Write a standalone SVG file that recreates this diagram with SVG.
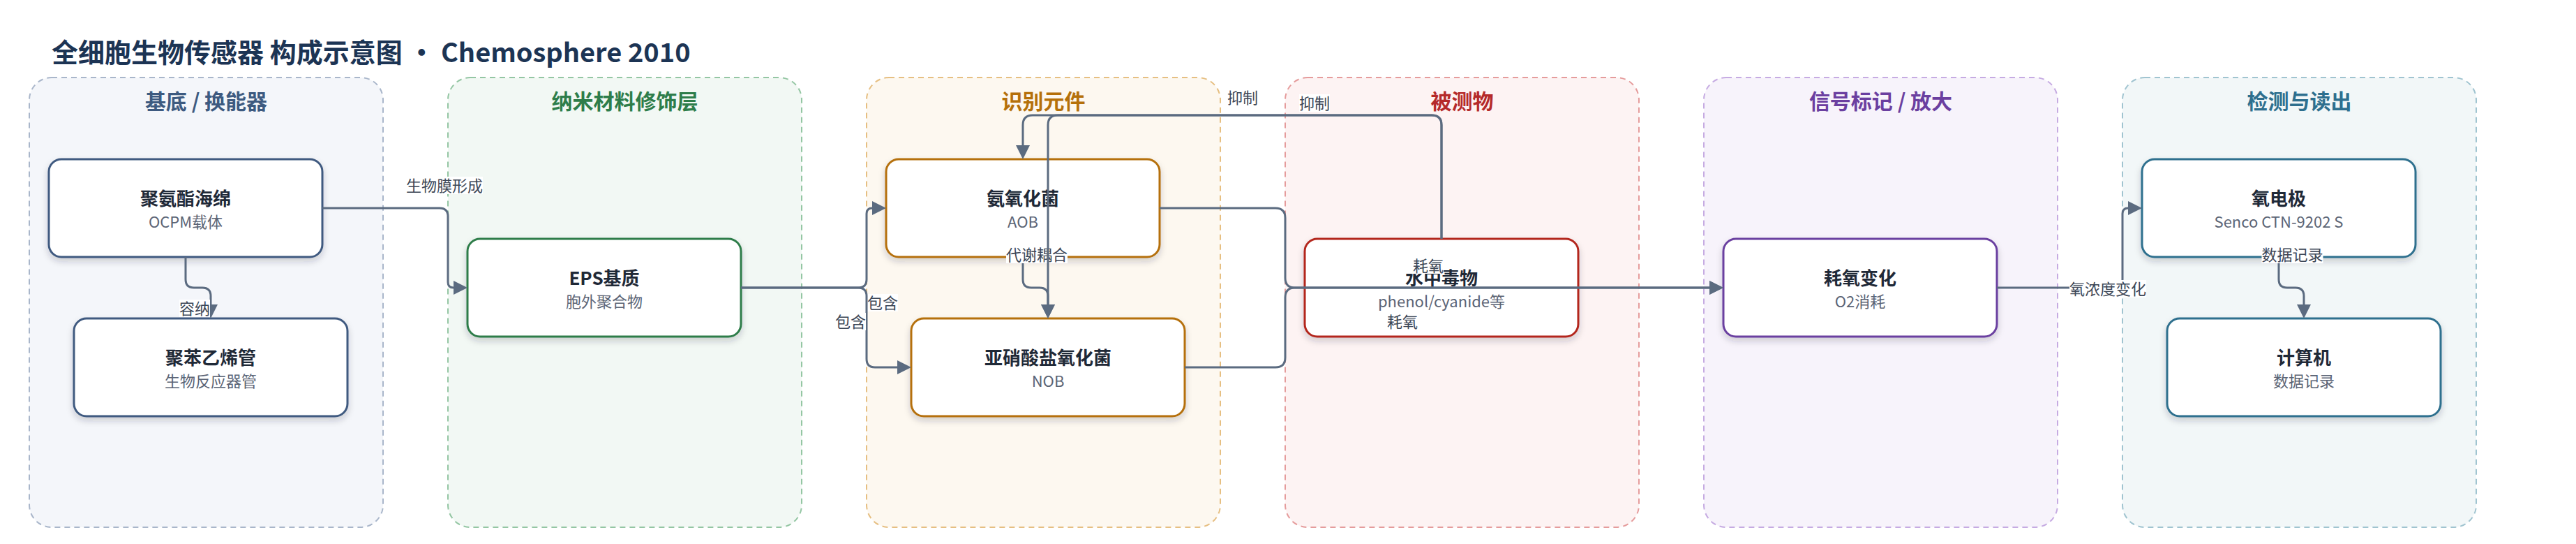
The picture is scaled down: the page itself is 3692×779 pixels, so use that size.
<svg xmlns="http://www.w3.org/2000/svg" width="3692" height="779" viewBox="0 0 3692 779">
<defs>
<style>
text{font-family:"Noto Sans CJK SC","Noto Sans",sans-serif;}
.title{font-size:38px;font-weight:700;fill:#1c3454;}
.ct{font-size:30px;font-weight:700;text-anchor:middle;}
.cl{stroke-width:2;stroke-dasharray:8 6;}
.node{fill:#ffffff;stroke-width:3;filter:url(#shadow);}
.nt{font-size:26px;font-weight:700;fill:#1f2937;text-anchor:middle;}
.ns{font-size:22px;fill:#5b6475;text-anchor:middle;}
.edge{fill:none;stroke:#5b6b80;stroke-width:3;marker-end:url(#arrow);}
.lbg{fill:#ffffff;}
.lbl{font-size:22px;fill:#3d4757;text-anchor:middle;}
</style>
<marker id="arrow" viewBox="0 0 20 20" refX="10" refY="10" markerWidth="20" markerHeight="20" markerUnits="userSpaceOnUse" orient="auto">
<path d="M0,0 L20,10 L0,20 z" fill="#5b6b80"/>
</marker>
<filter id="shadow" x="-10%" y="-15%" width="120%" height="145%">
<feDropShadow dx="0" dy="5" stdDeviation="5" flood-color="#1f2937" flood-opacity="0.2"/>
</filter>
</defs>
<rect width="3692" height="779" fill="#ffffff"/>
<text class="title" x="74" y="89">全细胞生物传感器 构成示意图 · Chemosphere 2010</text>

<g id="clusters">
<g id="cluster-substrate">
<rect class="cl" x="42" y="111" width="507" height="644" rx="32" fill="#f4f6fa" stroke="#a9b6ca"/>
<text class="ct" x="295.5" y="156" fill="#3d5a80">基底 / 换能器</text>
</g>
<g id="cluster-nano">
<rect class="cl" x="642" y="111" width="507" height="644" rx="32" fill="#f2f8f4" stroke="#94c6a3"/>
<text class="ct" x="895.5" y="156" fill="#2e7d4a">纳米材料修饰层</text>
</g>
<g id="cluster-recog">
<rect class="cl" x="1242" y="111" width="507" height="644" rx="32" fill="#fdf8f0" stroke="#e6bf82"/>
<text class="ct" x="1495.5" y="156" fill="#b5700a">识别元件</text>
</g>
<g id="cluster-analyte">
<rect class="cl" x="1842" y="111" width="507" height="644" rx="32" fill="#fdf3f3" stroke="#e59c9c"/>
<text class="ct" x="2095.5" y="156" fill="#b52a2a">被测物</text>
</g>
<g id="cluster-signal">
<rect class="cl" x="2442" y="111" width="507" height="644" rx="32" fill="#f7f3fb" stroke="#c6abe2"/>
<text class="ct" x="2695.5" y="156" fill="#6b3fa0">信号标记 / 放大</text>
</g>
<g id="cluster-readout">
<rect class="cl" x="3042" y="111" width="507" height="644" rx="32" fill="#f2f7f8" stroke="#a0c4d0"/>
<text class="ct" x="3295.5" y="156" fill="#2e6f8e">检测与读出</text>
</g>
</g>

<g id="nodes">
<g id="n-sponge">
<rect class="node" x="70" y="228" width="392" height="140" rx="18" stroke="#3f5a80"/>
<text class="nt" x="266" y="294">聚氨酯海绵</text>
<text class="ns" x="266" y="326">OCPM载体</text>
</g>
<g id="n-tube">
<rect class="node" x="106" y="456" width="392" height="140" rx="18" stroke="#3f5a80"/>
<text class="nt" x="302" y="522">聚苯乙烯管</text>
<text class="ns" x="302" y="554">生物反应器管</text>
</g>
<g id="n-eps">
<rect class="node" x="670" y="342" width="392" height="140" rx="18" stroke="#2e7d4a"/>
<text class="nt" x="866" y="408">EPS基质</text>
<text class="ns" x="866" y="440">胞外聚合物</text>
</g>
<g id="n-aob">
<rect class="node" x="1270" y="228" width="392" height="140" rx="18" stroke="#b5700a"/>
<text class="nt" x="1466" y="294">氨氧化菌</text>
<text class="ns" x="1466" y="326">AOB</text>
</g>
<g id="n-nob">
<rect class="node" x="1306" y="456" width="392" height="140" rx="18" stroke="#b5700a"/>
<text class="nt" x="1502" y="522">亚硝酸盐氧化菌</text>
<text class="ns" x="1502" y="554">NOB</text>
</g>
<g id="n-toxic">
<rect class="node" x="1870" y="342" width="392" height="140" rx="18" stroke="#b3281f"/>
<text class="nt" x="2066" y="408">水中毒物</text>
<text class="ns" x="2066" y="440">phenol/cyanide等</text>
</g>
<g id="n-o2">
<rect class="node" x="2470" y="342" width="392" height="140" rx="18" stroke="#6b3fa0"/>
<text class="nt" x="2666" y="408">耗氧变化</text>
<text class="ns" x="2666" y="440">O2消耗</text>
</g>
<g id="n-electrode">
<rect class="node" x="3070" y="228" width="392" height="140" rx="18" stroke="#2e6f8e"/>
<text class="nt" x="3266" y="294">氧电极</text>
<text class="ns" x="3266" y="326">Senco CTN-9202 S</text>
</g>
<g id="n-computer">
<rect class="node" x="3106" y="456" width="392" height="140" rx="18" stroke="#2e6f8e"/>
<text class="nt" x="3302" y="522">计算机</text>
<text class="ns" x="3302" y="554">数据记录</text>
</g>
</g>

<g id="connectors">
<g id="e1">
<path class="edge" d="M462 298 H630 Q642 298 642 310 V404 Q642 412 650 412 H660"/>
<rect class="lbg" x="582" y="253" width="110" height="25"/>
<text class="lbl" x="637" y="273.5">生物膜形成</text>
</g>
<g id="e2">
<path class="edge" d="M266 368 V400 Q266 412 278 412 H290 Q302 412 302 424 V446"/>
<rect class="lbg" x="257" y="429" width="44" height="25"/>
<text class="lbl" x="279" y="449.5">容纳</text>
</g>
<g id="e3">
<path class="edge" d="M1062 412 H1230 Q1242 412 1242 400 V306 Q1242 298 1250 298 H1260"/>
<rect class="lbg" x="1243" y="421" width="44" height="25"/>
<text class="lbl" x="1265" y="441.5">包含</text>
</g>
<g id="e4">
<path class="edge" d="M1062 412 H1230 Q1242 412 1242 424 V514 Q1242 526 1254 526 H1296"/>
<rect class="lbg" x="1197" y="448" width="44" height="25"/>
<text class="lbl" x="1219" y="468.5">包含</text>
</g>
<g id="e5">
<path class="edge" d="M1466 368 V400 Q1466 412 1478 412 H1490 Q1502 412 1502 424 V446"/>
<rect class="lbg" x="1442" y="352" width="88" height="25"/>
<text class="lbl" x="1486" y="372.5">代谢耦合</text>
</g>
<g id="e6">
<path class="edge" d="M2066 342 V179 Q2066 165 2052 165 H1480 Q1466 165 1466 179 V218"/>
<rect class="lbg" x="1759" y="127" width="44" height="25"/>
<text class="lbl" x="1781" y="147.5">抑制</text>
</g>
<g id="e7">
<path class="edge" d="M2066 342 V179 Q2066 165 2052 165 H1516 Q1502 165 1502 179 V446"/>
<rect class="lbg" x="1862" y="135" width="44" height="25"/>
<text class="lbl" x="1884" y="155.5">抑制</text>
</g>
<g id="e8">
<path class="edge" d="M1662 298 H1828 Q1842 298 1842 312 V398 Q1842 412 1856 412 H2460"/>
<rect class="lbg" x="2025" y="368" width="44" height="24"/>
<text class="lbl" x="2047" y="388.5">耗氧</text>
</g>
<g id="e9">
<path class="edge" d="M1698 526 H1828 Q1842 526 1842 512 V426 Q1842 412 1856 412 H2460"/>
<rect class="lbg" x="1988" y="448" width="44" height="25"/>
<text class="lbl" x="2010" y="468.5">耗氧</text>
</g>
<g id="e10">
<path class="edge" d="M2862 412 H3030 Q3042 412 3042 400 V306 Q3042 298 3050 298 H3060"/>
<rect class="lbg" x="2966" y="401" width="110" height="25"/>
<text class="lbl" x="3021" y="421.5">氧浓度变化</text>
</g>
<g id="e11">
<path class="edge" d="M3266 368 V400 Q3266 412 3278 412 H3290 Q3302 412 3302 424 V446"/>
<rect class="lbg" x="3241.5" y="352" width="88" height="25"/>
<text class="lbl" x="3285.5" y="372.5">数据记录</text>
</g>
</g>
</svg>
